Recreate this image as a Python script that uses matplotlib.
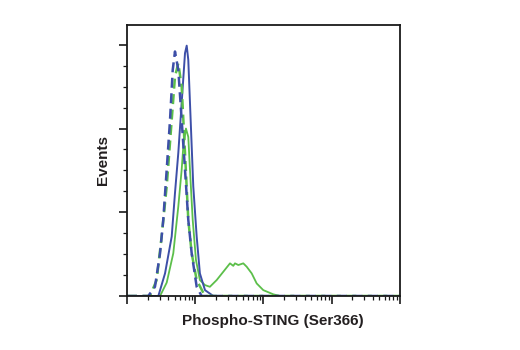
"""Flow cytometry overlay: Phospho-STING (Ser366) histograms."""

import numpy as np
import matplotlib
matplotlib.use("Agg")
import matplotlib.pyplot as plt
from matplotlib.ticker import LogLocator, MultipleLocator, NullFormatter

BLUE = "#3d4fa8"
GREEN = "#5cbf4a"

# fluorescence intensity (log axis) and relative event counts
blue_dash_x = [10, 20.5, 25.7, 30.5, 34.0, 38.2, 42.7, 46.8, 50.5, 56.5, 63.3, 70.8, 79.1, 88.7, 105, 124, 1e5]
blue_dash_y = [0, 0, 0.11, 0.51, 0.91, 1.51, 2.10, 2.70, 2.92, 2.70, 2.10, 1.51, 0.91, 0.51, 0.11, 0, 0]

green_dash_x = [10, 21.7, 27.2, 32.2, 38.2, 45.2, 50.5, 56.5, 63.3, 70.8, 79.1, 88.7, 105, 139, 1e5]
green_dash_y = [0, 0, 0.19, 0.71, 1.31, 2.10, 2.62, 2.78, 2.50, 1.71, 0.91, 0.51, 0.19, 0, 0]

blue_x = [10, 28.8, 36.1, 45.2, 50.5, 56.5, 63.3, 70.8, 75.0, 79.1, 85.7, 93.6, 105, 117, 139, 184, 1e5]
blue_y = [0, 0, 0.27, 0.71, 1.23, 1.71, 2.31, 2.90, 2.99, 2.82, 2.10, 1.31, 0.71, 0.27, 0.07, 0, 0]

green_x = [10, 30.5, 38.2, 47.7, 56.5, 63.3, 66.8, 73.1, 79.1, 83.7, 91.8, 102.5, 117, 139, 164,
           206, 258, 323, 361, 382, 428, 506, 567, 672, 795, 993, 1393, 1747, 1e5]
green_y = [0, 0, 0.16, 0.51, 1.07, 1.51, 1.78, 2.00, 1.90, 1.51, 0.91, 0.43, 0.19, 0.13, 0.11,
           0.19, 0.29, 0.39, 0.36, 0.39, 0.37, 0.39, 0.35, 0.27, 0.15, 0.07, 0.02, 0, 0]

FONT = ["Liberation Sans", "DejaVu Sans"]


def main():
    fig = plt.figure(figsize=(5.2, 3.5), dpi=100)
    ax = fig.add_axes([0.2442, 0.1543, 0.525, 0.7751])

    ax.plot(green_x, green_y, color=GREEN, lw=1.3)
    ax.plot(blue_x, blue_y, color=BLUE, lw=1.4)
    ax.plot(green_dash_x, green_dash_y, color=GREEN, lw=1.8, ls=(0, (4.0, 2.2)))
    ax.plot(blue_dash_x, blue_dash_y, color=BLUE, lw=1.8, ls=(0, (4.0, 2.2)))

    ax.set_xscale("log")
    ax.set_xlim(10, 1e5)
    ax.set_ylim(0, 3.24)

    ax.xaxis.set_major_locator(LogLocator(base=10, numticks=10))
    ax.xaxis.set_minor_locator(LogLocator(base=10, subs=np.arange(2, 10), numticks=20))
    ax.xaxis.set_major_formatter(NullFormatter())
    ax.xaxis.set_minor_formatter(NullFormatter())
    ax.yaxis.set_major_locator(MultipleLocator(1))
    ax.yaxis.set_minor_locator(MultipleLocator(0.25))
    ax.yaxis.set_major_formatter(NullFormatter())

    for spine in ax.spines.values():
        spine.set_linewidth(1.3)
        spine.set_color("#1a1a1a")
    ax.tick_params(which="major", direction="out", length=6, width=1.2, color="#1a1a1a")
    ax.tick_params(which="minor", direction="out", length=3, width=0.9, color="#1a1a1a")

    fig.text(273 / 520, 1 - 321 / 350, "Phospho-STING (Ser366)", ha="center", va="center",
             fontsize=11, fontweight="bold", family=FONT, color="#231f20")
    fig.text(103.5 / 520, 1 - 160 / 350, "Events", ha="center", va="center", rotation=90,
             fontsize=11, fontweight="bold", family=FONT, color="#231f20")

    fig.savefig("out.png", dpi=100)
    plt.close(fig)


if __name__ == "__main__":
    main()
